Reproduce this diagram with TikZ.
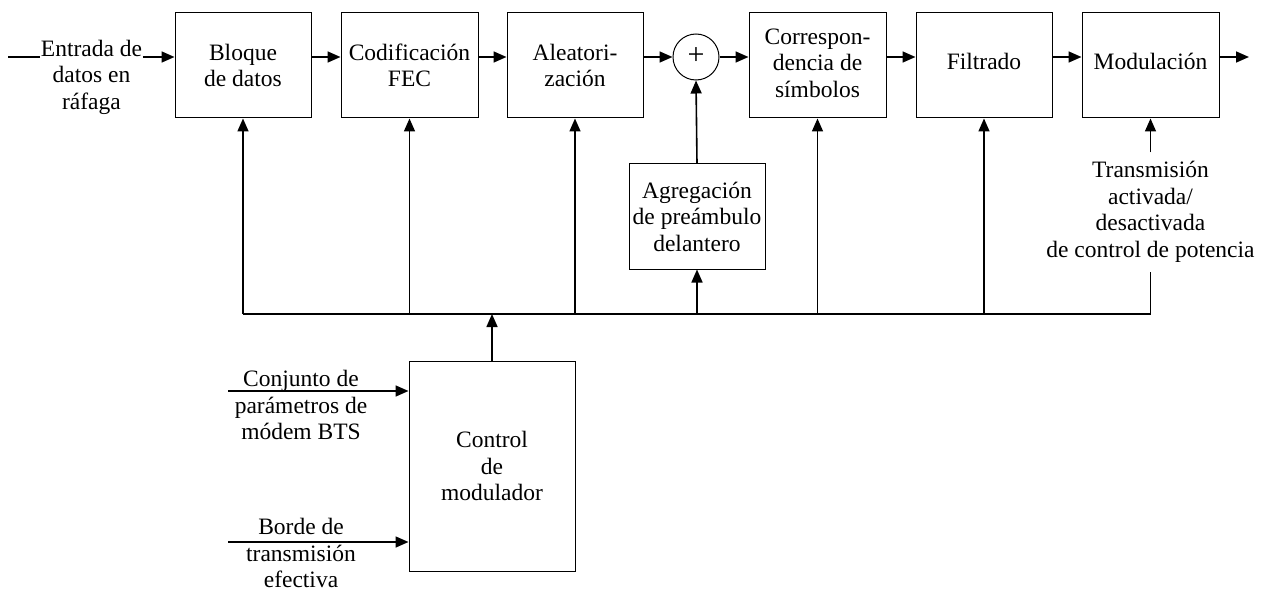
\documentclass[tikz,border=0pt]{standalone}
\usepackage{fontspec}
\setmainfont{Liberation Serif}
\usetikzlibrary{arrows.meta}
\newcommand{\lowered}[2]{\raisebox{#1}{\begin{tabular}{@{}c@{}}#2\end{tabular}}}
\begin{document}
\begin{tikzpicture}[x=1pt,y=-1pt,
  txt/.style={font=\fontsize{23.5}{26.5}\selectfont, align=center, inner sep=0pt},
  blk/.style={txt, draw, line width=1pt, minimum width=136pt, minimum height=105pt},
  wire/.style={line width=1.6pt},
  arr/.style={wire, -{Triangle[length=13pt,width=11pt]}}]
\useasboundingbox (0,0) rectangle (1267,591);

% processing chain
\node[blk] (bloque) at (243,65.5) {Bloque\\de datos};
\node[blk, minimum width=137pt] (codif) at (409.5,65.5) {Codificación\\FEC};
\node[blk] (aleat) at (575,65.5) {Aleatori-\\zación};
\node[draw, circle, line width=1pt, minimum size=46pt, inner sep=0pt,
      font=\fontsize{30}{30}\selectfont] (sum) at (696,57) {\raisebox{1pt}{+}};
\node[blk, minimum width=137pt] (corr) at (817.5,65.5)
  {\lowered{-4pt}{Correspon-\\dencia de\\símbolos}};
\node[blk] (filt) at (984,65.5) {\raisebox{8pt}{Filtrado}};
\node[blk, minimum width=137pt] (modu) at (1150.5,65.5) {\raisebox{8pt}{Modulación}};

\node[blk] (agreg) at (697,216.5) {Agregación\\de preámbulo\\delantero};
\node[blk, minimum width=166pt, minimum height=210pt] (ctrl) at (492,466) {Control\\de\\modulador};

% input to the chain
\coordinate (in0) at (8,57);
\node[txt, inner xsep=0.5pt] (entr) at (91.5,77) {Entrada de\\datos en\\ráfaga};
\draw[wire] (in0) -- (entr.west |- in0);
\draw[arr] (entr.east |- in0) -- (bloque.west |- sum);

% main signal path
\draw[arr] (bloque.east |- sum) -- (codif.west |- sum);
\draw[arr] (codif.east |- sum) -- (aleat.west |- sum);
\draw[arr] (aleat.east |- sum) -- (sum.west);
\draw[arr] (sum.east) -- (corr.west |- sum);
\draw[arr] (corr.east |- sum) -- (filt.west |- sum);
\draw[arr] (filt.east |- sum) -- (modu.west |- sum);
\coordinate (out) at (1249,57);
\draw[arr] (modu.east |- sum) -- (out);
\draw[arr] (agreg.north) -- (sum.south);

% control bus
\coordinate (busL) at (243,314);
\coordinate (busR) at (1150.5,314);
\draw[wire] (busL) -- (busR);
\draw[arr] (busL) -- (bloque.south);
\draw[arr] (codif.south |- busL) -- (codif.south);
\draw[arr] (aleat.south |- busL) -- (aleat.south);
\draw[arr] (agreg.south |- busL) -- (agreg.south);
\draw[arr] (corr.south |- busL) -- (corr.south);
\draw[arr] (filt.south |- busL) -- (filt.south);
\node[txt, inner ysep=9pt] (txctl) at (1150.5,212)
  {Transmisión\\activada/\\desactivada\\de control de potencia};
\draw[wire] (busR) -- (txctl.south);
\draw[arr] (txctl.north) -- (modu.south);
\draw[arr] (ctrl.north) -- (ctrl.north |- busL);

% modulator control inputs
\coordinate (in1) at (228,391);
\coordinate (in2) at (228,542);
\draw[arr] (in1) -- (ctrl.west |- in1);
\draw[arr] (in2) -- (ctrl.west |- in2);
\node[txt] (lab1) at (301,405) {Conjunto de\\parámetros de\\módem BTS};
\node[txt] (lab2) at (301,553) {Borde de\\transmisión\\efectiva};
\end{tikzpicture}
\end{document}
